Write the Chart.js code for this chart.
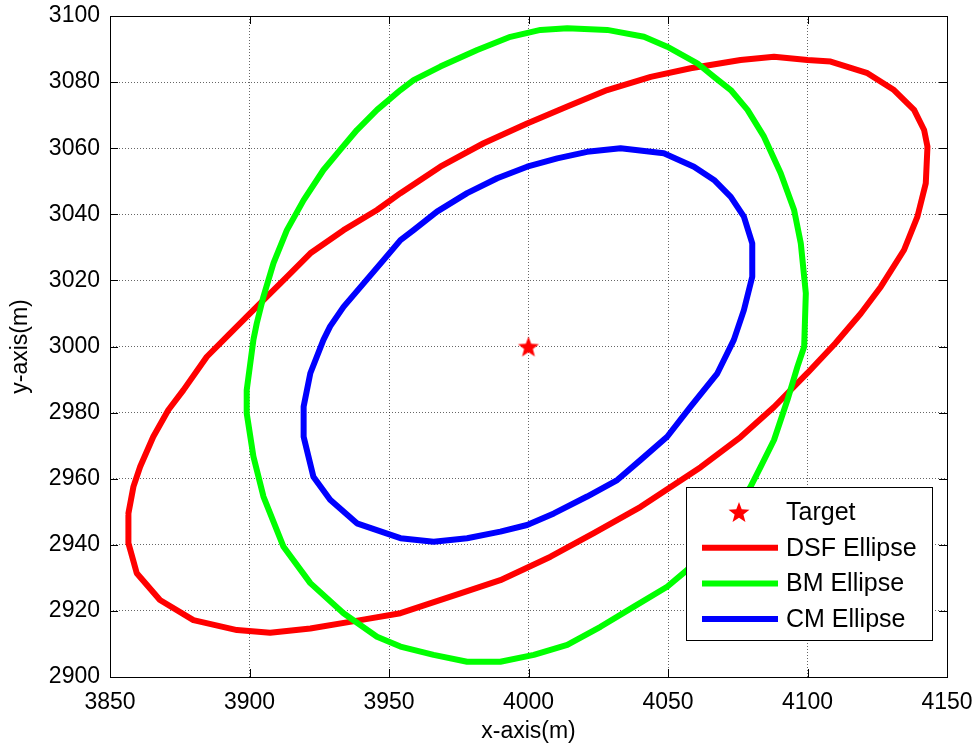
<!DOCTYPE html>
<html>
<head>
<meta charset="utf-8">
<title>Ellipses</title>
<script src="https://cdn.jsdelivr.net/npm/chart.js@4"></script>
<style>
  html, body { margin: 0; padding: 0; background: #fff; }
  #wrap { width: 979px; height: 749px; }
</style>
</head>
<body>
<div id="wrap"><canvas id="chart" width="979" height="749"></canvas></div>
<script>
// Axis ticks
const xTicks = [3850, 3900, 3950, 4000, 4050, 4100, 4150];
const yTicks = [2900, 2920, 2940, 2960, 2980, 3000, 3020, 3040, 3060, 3080, 3100];

// Series names (legend order)
const seriesNames = ['Target', 'DSF Ellipse', 'BM Ellipse', 'CM Ellipse'];

// Target position
const targetX = [4000];
const targetY = [3000];

// DSF ellipse (red)
const dsfX = [3856.6, 3858.4, 3860.8, 3865.5, 3870.9, 3876.3, 3884.7, 3892.5, 3900.2, 3913.4,
  3921.8, 3933.7, 3945.7, 3954.1, 3968.4, 3983.9, 3999.5, 4013.9, 4028.2, 4043.8,
  4058.1, 4076.0, 4088.0, 4100.0, 4108.3, 4121.5, 4131.0, 4138.2, 4141.8, 4143.0,
  4142.4, 4139.4, 4134.6, 4126.3, 4119.1, 4110.0, 4100.0, 4088.0, 4076.0, 4061.7,
  4040.2, 4023.4, 4007.9, 3989.9, 3975.6, 3954.1, 3939.7, 3921.8, 3907.4, 3895.5,
  3879.9, 3867.9, 3859.6, 3856.6, 3856.6];
const dsfY = [2949.5, 2957.6, 2963.6, 2972.7, 2980.8, 2986.8, 2996.9, 3003.5, 3010.0, 3021.1,
  3028.2, 3035.2, 3041.3, 3046.4, 3054.4, 3061.5, 3067.5, 3072.6, 3077.6, 3081.6,
  3084.2, 3086.7, 3087.7, 3086.7, 3086.2, 3082.7, 3077.6, 3071.6, 3065.5, 3060.5,
  3049.4, 3039.3, 3029.2, 3018.1, 3010.0, 3001.0, 2992.0, 2981.7, 2972.6, 2963.5,
  2951.5, 2943.5, 2936.4, 2929.3, 2925.3, 2919.3, 2917.2, 2914.7, 2913.4, 2914.2,
  2917.2, 2923.3, 2931.4, 2940.5, 2949.5];

// BM ellipse (green)
const bmX = [3901.4, 3899.0, 3899.0, 3901.4, 3905.0, 3912.2, 3921.8, 3933.7, 3945.7, 3954.1,
  3966.0, 3978.0, 3989.9, 4001.9, 4013.9, 4025.8, 4037.8, 4049.7, 4056.9, 4069.0,
  4079.6, 4083.2, 4088.0, 4092.8, 4096.4, 4098.8, 4099.4, 4097.6, 4095.2, 4090.4,
  4084.4, 4078.5, 4072.5, 4066.5, 4060.5, 4049.7, 4041.4, 4028.2, 4013.9, 4004.3,
  3993.5, 3981.6, 3968.4, 3958.8, 3954.1, 3945.7, 3938.5, 3932.5, 3926.5, 3919.4,
  3913.4, 3908.6, 3905.0, 3902.6, 3901.4];
const bmY = [3002.0, 2986.8, 2979.8, 2966.7, 2954.6, 2939.4, 2928.4, 2919.3, 2912.2, 2909.2,
  2906.7, 2904.6, 2904.6, 2906.7, 2909.7, 2915.2, 2921.3, 2927.3, 2932.4, 2945.0,
  2957.6, 2963.6, 2971.7, 2983.8, 2993.9, 2999.9, 3016.1, 3031.2, 3041.3, 3052.4,
  3063.5, 3071.6, 3077.6, 3081.6, 3085.7, 3090.7, 3093.7, 3095.8, 3096.3, 3095.8,
  3093.7, 3089.7, 3084.7, 3080.6, 3077.6, 3071.6, 3065.5, 3059.5, 3053.4, 3044.3,
  3035.2, 3025.2, 3015.1, 3007.0, 3002.0];

// CM ellipse (blue)
const cmX = [3926.5, 3921.8, 3919.4, 3919.4, 3922.9, 3928.9, 3938.5, 3954.1, 3966.0, 3978.0,
  3989.9, 3999.5, 4009.1, 4021.0, 4031.8, 4040.2, 4049.7, 4058.1, 4067.7,
  4073.6, 4077.2, 4080.2, 4080.2, 4077.2, 4072.5, 4066.5, 4059.3, 4048.5, 4033.0,
  4021.0, 4010.3, 3999.5, 3988.8, 3978.0, 3967.2, 3958.8, 3954.1, 3948.1, 3940.9,
  3933.7, 3928.9, 3926.5];
const cmY = [3002.0, 2991.9, 2981.8, 2972.7, 2960.6, 2953.6, 2946.5, 2942.0, 2940.9, 2942.0,
  2944.0, 2946.0, 2949.5, 2954.6, 2959.6, 2965.7, 2972.7, 2981.8, 2991.9,
  3002.0, 3011.0, 3021.1, 3031.2, 3039.3, 3045.3, 3050.4, 3054.4, 3058.5, 3060.0,
  3058.9, 3056.9, 3054.4, 3050.9, 3046.4, 3040.8, 3035.2, 3032.2, 3026.2, 3019.1,
  3012.0, 3006.1, 3002.0];

const FONT = "'Liberation Sans', Arial, sans-serif";

// Build {x, y} points from two arrays
function toPoints(xs, ys) {
  return xs.map((x, i) => ({ x: x, y: ys[i] }));
}

// Filled five-pointed star used as the target marker
function makeStar(outer, color) {
  const size = Math.ceil(outer * 2 + 2);
  const c = document.createElement('canvas');
  c.width = size;
  c.height = size;
  const ctx = c.getContext('2d');
  const inner = outer * 0.42;
  ctx.beginPath();
  for (let i = 0; i < 10; i++) {
    const r = i % 2 === 0 ? outer : inner;
    const a = -Math.PI / 2 + i * Math.PI / 5;
    const px = size / 2 + r * Math.cos(a);
    const py = size / 2 + r * Math.sin(a) + outer * 0.1;
    if (i === 0) ctx.moveTo(px, py); else ctx.lineTo(px, py);
  }
  ctx.closePath();
  ctx.fillStyle = color;
  ctx.fill();
  return c;
}

const starImg = makeStar(11, '#ff0000');

function ellipseDataset(label, xs, ys, color, order) {
  return {
    label: label,
    data: toPoints(xs, ys),
    showLine: true,
    borderColor: color,
    backgroundColor: color,
    borderWidth: 6,
    borderJoinStyle: 'round',
    borderCapStyle: 'round',
    tension: 0,
    pointRadius: 0,
    pointHoverRadius: 0,
    order: order
  };
}

// Frame round the plot with inward tick marks (MATLAB style)
const framePlugin = {
  id: 'frame',
  afterDatasetsDraw(chart) {
    const { ctx, chartArea: a, scales } = chart;
    const len = 8;
    ctx.save();
    ctx.strokeStyle = '#000';
    ctx.lineWidth = 1;
    ctx.strokeRect(Math.round(a.left) + 0.5, Math.round(a.top) + 0.5,
      Math.round(a.right - a.left), Math.round(a.bottom - a.top));
    ctx.beginPath();
    xTicks.forEach(v => {
      const px = Math.round(scales.x.getPixelForValue(v)) + 0.5;
      ctx.moveTo(px, a.bottom); ctx.lineTo(px, a.bottom - len);
      ctx.moveTo(px, a.top); ctx.lineTo(px, a.top + len);
    });
    yTicks.forEach(v => {
      const py = Math.round(scales.y.getPixelForValue(v)) + 0.5;
      ctx.moveTo(a.left, py); ctx.lineTo(a.left + len, py);
      ctx.moveTo(a.right, py); ctx.lineTo(a.right - len, py);
    });
    ctx.stroke();
    ctx.restore();
  }
};

// Boxed legend inside the lower right corner of the plot
const legendPlugin = {
  id: 'boxLegend',
  afterDraw(chart) {
    const { ctx, chartArea: a } = chart;
    const w = 246, h = 153;
    const left = Math.round(a.right - 15 - w);
    const top = Math.round(a.bottom - 37 - h);
    ctx.save();
    ctx.fillStyle = '#fff';
    ctx.fillRect(left, top, w, h);
    ctx.strokeStyle = '#000';
    ctx.lineWidth = 1;
    ctx.strokeRect(left + 0.5, top + 0.5, w, h);

    ctx.font = '25px ' + FONT;
    ctx.fillStyle = '#000';
    ctx.textBaseline = 'middle';
    ctx.textAlign = 'left';

    const entries = [
      { name: seriesNames[0], marker: true },
      { name: seriesNames[1], color: '#ff0000' },
      { name: seriesNames[2], color: '#00ff00' },
      { name: seriesNames[3], color: '#0000ff' }
    ];
    entries.forEach((e, i) => {
      const cy = top + 25 + i * 35.7;
      if (e.marker) {
        ctx.drawImage(starImg, left + 53 - starImg.width / 2, cy - starImg.height / 2);
      } else {
        ctx.strokeStyle = e.color;
        ctx.lineWidth = 6;
        ctx.beginPath();
        ctx.moveTo(left + 16, cy);
        ctx.lineTo(left + 92, cy);
        ctx.stroke();
      }
      ctx.fillStyle = '#000';
      ctx.fillText(e.name, left + 100, cy + 1);
    });
    ctx.restore();
  }
};

const gridOpts = {
  color: 'rgba(0,0,0,0.6)',
  lineWidth: 1,
  drawTicks: false,
  tickLength: 0
};

new Chart(document.getElementById('chart'), {
  type: 'scatter',
  data: {
    datasets: [
      {
        label: seriesNames[0],
        data: toPoints(targetX, targetY),
        pointStyle: starImg,
        pointRadius: 11,
        pointHoverRadius: 11,
        showLine: false,
        order: 0
      },
      ellipseDataset(seriesNames[1], dsfX, dsfY, '#ff0000', 3),
      ellipseDataset(seriesNames[2], bmX, bmY, '#00ff00', 2),
      ellipseDataset(seriesNames[3], cmX, cmY, '#0000ff', 1)
    ]
  },
  options: {
    responsive: false,
    animation: false,
    layout: { padding: { top: 16, right: 32, left: 0, bottom: 0 } },
    plugins: {
      legend: { display: false },
      tooltip: { enabled: false }
    },
    events: [],
    scales: {
      x: {
        type: 'linear',
        min: xTicks[0],
        max: xTicks[xTicks.length - 1],
        afterBuildTicks: scale => { scale.ticks = xTicks.map(v => ({ value: v })); },
        afterFit: scale => {
          scale.height = 72;
          // keep the plot edges where the layout padding puts them
          scale.paddingLeft = 0;
          scale.paddingRight = 0;
        },
        grid: gridOpts,
        border: { display: false, dash: [1, 2] },
        ticks: {
          color: '#000',
          font: { family: FONT, size: 23 },
          padding: 12,
          maxRotation: 0,
          callback: v => String(v)
        },
        title: {
          display: true,
          text: 'x-axis(m)',
          color: '#000',
          font: { family: FONT, size: 23 },
          padding: { top: 0, bottom: 4 }
        }
      },
      y: {
        type: 'linear',
        min: yTicks[0],
        max: yTicks[yTicks.length - 1],
        afterBuildTicks: scale => { scale.ticks = yTicks.map(v => ({ value: v })); },
        afterFit: scale => {
          scale.width = 110;
          scale.paddingTop = 0;
          scale.paddingBottom = 0;
        },
        grid: gridOpts,
        border: { display: false, dash: [1, 2] },
        ticks: {
          color: '#000',
          font: { family: FONT, size: 23 },
          padding: 10,
          callback: v => String(v)
        },
        title: {
          display: true,
          text: 'y-axis(m)',
          color: '#000',
          font: { family: FONT, size: 23 },
          padding: { top: 7, bottom: 0 }
        }
      }
    }
  },
  plugins: [framePlugin, legendPlugin]
});
</script>
</body>
</html>
